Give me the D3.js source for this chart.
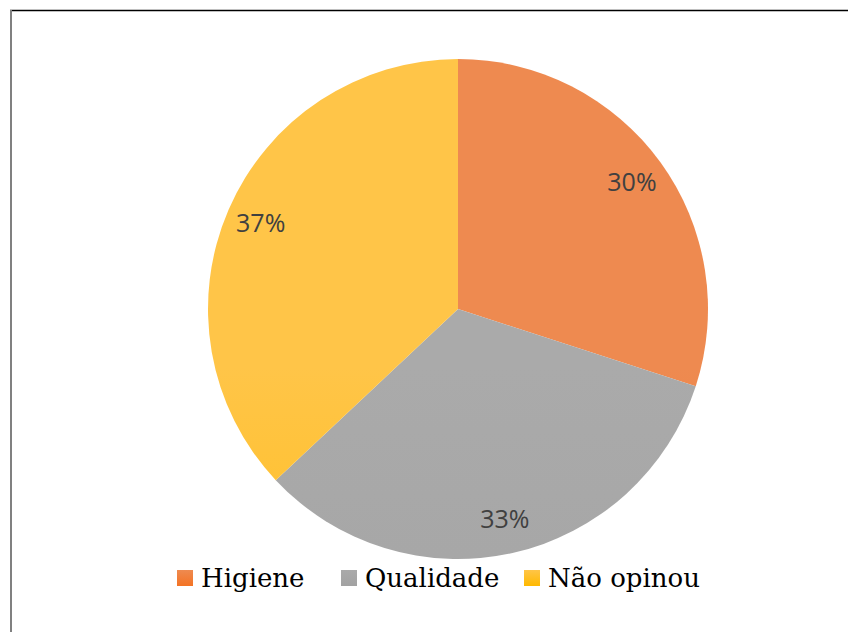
<!DOCTYPE html>
<html>
<head>
<meta charset="utf-8">
<script src="https://cdn.jsdelivr.net/npm/d3@7"></script>
<style>
  body { margin: 0; background: #fff; }
  svg { display: block; }
  .legend-text { font-family: "DejaVu Serif", "Liberation Serif", "Times New Roman", serif; }
  .label { font-family: "Open Sans", "Liberation Sans", sans-serif; }
</style>
</head>
<body>
<div id="chart"></div>
<script>
'use strict';

const categories = ['Higiene', 'Qualidade', 'Não opinou'];
const values = [30, 33, 37];
const labels = ['30%', '33%', '37%'];
const colorsTop = ['#ee8a50', '#aaaaaa', '#ffc548'];
const colorsBottom = ['#f47324', '#a2a2a2', '#ffb900'];

const width = 848, height = 632;
const cx = 458, cy = 309, radius = 250;

const svg = d3.select('#chart')
  .append('svg')
    .attr('width', width)
    .attr('height', height);

// frame
svg.append('line')
    .attr('x1', 10).attr('x2', width).attr('y1', 10.5).attr('y2', 10.5)
    .attr('stroke', '#000').attr('stroke-width', 1.5);
svg.append('line')
    .attr('x1', 11).attr('x2', 11).attr('y1', 10).attr('y2', height)
    .attr('stroke', '#808080').attr('stroke-width', 2);

// gradients
const defs = svg.append('defs');
categories.forEach((c, i) => {
    const g = defs.append('linearGradient')
        .attr('id', 'grad' + i)
        .attr('gradientUnits', 'userSpaceOnUse')
        .attr('x1', 0).attr('x2', 0)
        .attr('y1', cy - radius).attr('y2', cy + radius);
    g.append('stop').attr('offset', '0%').attr('stop-color', colorsTop[i]);
    g.append('stop').attr('offset', '100%').attr('stop-color', colorsBottom[i]);

    const lg = defs.append('linearGradient')
        .attr('id', 'lgrad' + i)
        .attr('x1', 0).attr('x2', 0).attr('y1', 0).attr('y2', 1);
    lg.append('stop').attr('offset', '0%').attr('stop-color', colorsTop[i]);
    lg.append('stop').attr('offset', '100%').attr('stop-color', colorsBottom[i]);
});

const pie = d3.pie().sort(null).value(d => d);
const arcs = pie(values);
const arc = d3.arc().innerRadius(0).outerRadius(radius);
const labelArc = d3.arc().innerRadius(radius * 0.86).outerRadius(radius * 0.86);

const g = svg.append('g')
    .attr('transform', `translate(${cx},${cy})`);

g.selectAll('path.slice')
  .data(arcs)
  .join('path')
    .attr('class', 'slice')
    .attr('d', arc)
    .attr('fill', (d, i) => `url(#grad${i})`)
    .attr('stroke', 'none');

g.selectAll('text.label')
  .data(arcs)
  .join('text')
    .attr('class', 'label')
    .attr('transform', d => `translate(${labelArc.centroid(d)})`)
    .attr('text-anchor', 'middle')
    .attr('dy', '0.35em')
    .attr('font-size', 25)
    .attr('fill', '#404040')
    .text((d, i) => labels[i]);

// legend
const legendX = [177, 341, 524];
const items = svg.append('g').selectAll('g')
  .data(categories)
  .join('g')
    .attr('transform', (d, i) => `translate(${legendX[i]},578)`);
items.append('rect')
    .attr('x', 0).attr('y', -8)
    .attr('width', 16).attr('height', 16)
    .attr('fill', (d, i) => `url(#lgrad${i})`);
items.append('text')
    .attr('class', 'legend-text')
    .attr('x', 24)
    .attr('dy', '0.35em')
    .attr('font-size', 26)
    .attr('fill', '#000')
    .text(d => d);
</script>
</body>
</html>
